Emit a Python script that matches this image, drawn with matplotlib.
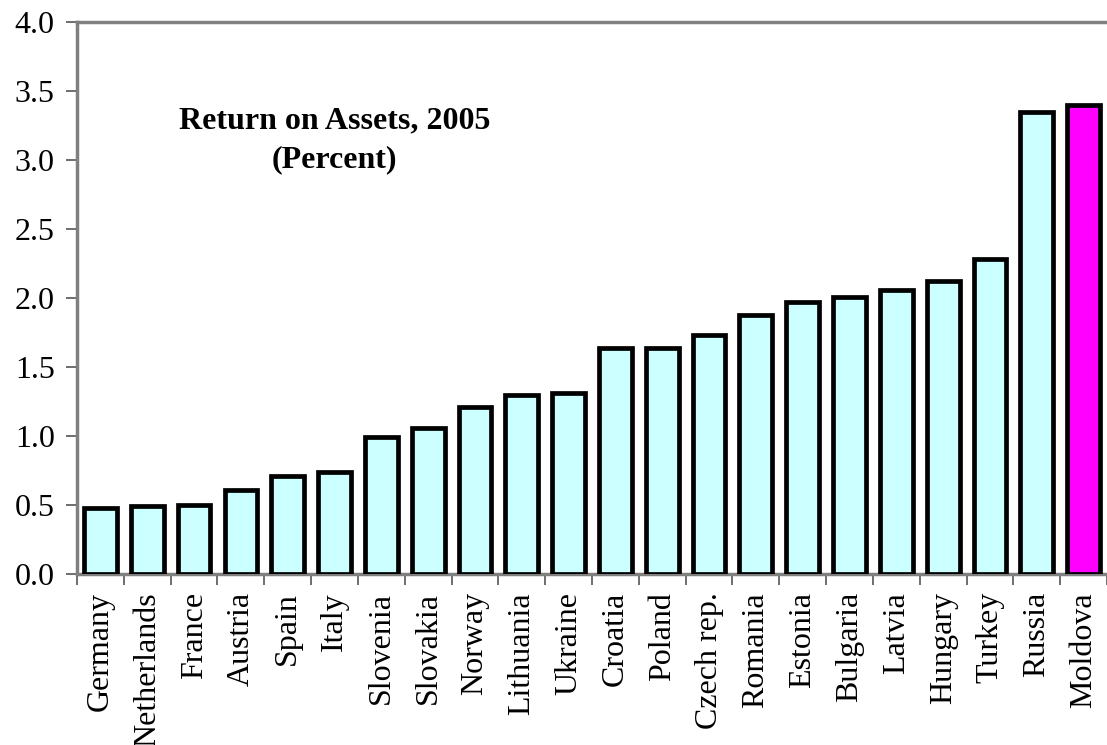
import matplotlib
matplotlib.use("Agg")
import matplotlib.pyplot as plt
import numpy as np

countries = ["Germany", "Netherlands", "France", "Austria", "Spain", "Italy",
             "Slovenia", "Slovakia", "Norway", "Lithuania", "Ukraine", "Croatia",
             "Poland", "Czech rep.", "Romania", "Estonia", "Bulgaria", "Latvia",
             "Hungary", "Turkey", "Russia", "Moldova"]
roa = [0.48, 0.49, 0.50, 0.61, 0.71, 0.74, 0.99, 1.06, 1.21, 1.30, 1.31, 1.64,
       1.64, 1.73, 1.88, 1.97, 2.01, 2.06, 2.12, 2.28, 3.35, 3.40]
yticks = [0.0, 0.5, 1.0, 1.5, 2.0, 2.5, 3.0, 3.5, 4.0]
title = "Return on Assets, 2005\n(Percent)"

plt.rcParams['font.family'] = ['Liberation Serif', 'DejaVu Serif']

fig = plt.figure(figsize=(11.07, 7.45), dpi=100)
ax = fig.add_axes([0.0696, 0.2295, 0.9304, 0.741])

colors = ["#CCFFFF"] * (len(countries) - 1) + ["#FF00FF"]
x = np.arange(len(countries))
ax.bar(x, roa, width=0.7, color=colors, edgecolor="black", linewidth=3.4,
       zorder=3)

ax.set_xlim(-0.5, len(countries) - 0.5)
ax.set_ylim(0, 4.0)
ax.set_yticks(yticks)
ax.set_yticklabels([f"{v:.1f}" for v in yticks], fontsize=23)

ax.set_xticks(x)
ax.set_xticklabels(countries, rotation=90, fontsize=23)
ax.tick_params(axis='x', length=0, pad=13)
ax.set_xticks(np.arange(len(countries) + 1) - 0.5, minor=True)
ax.tick_params(axis='x', which='minor', length=8, width=1.2, color="#555555",
               direction='out')
ax.tick_params(axis='y', length=8, width=1.2, color="#555555", pad=8)

for s in ["left", "top", "bottom"]:
    ax.spines[s].set_color("#808080")
    ax.spines[s].set_linewidth(2.5)
ax.spines["right"].set_visible(False)

ax.text(0.25, 0.786, title, transform=ax.transAxes, ha="center", va="center",
        fontsize=23, fontweight="bold", linespacing=1.45)

fig.savefig("out.png", dpi=100)
